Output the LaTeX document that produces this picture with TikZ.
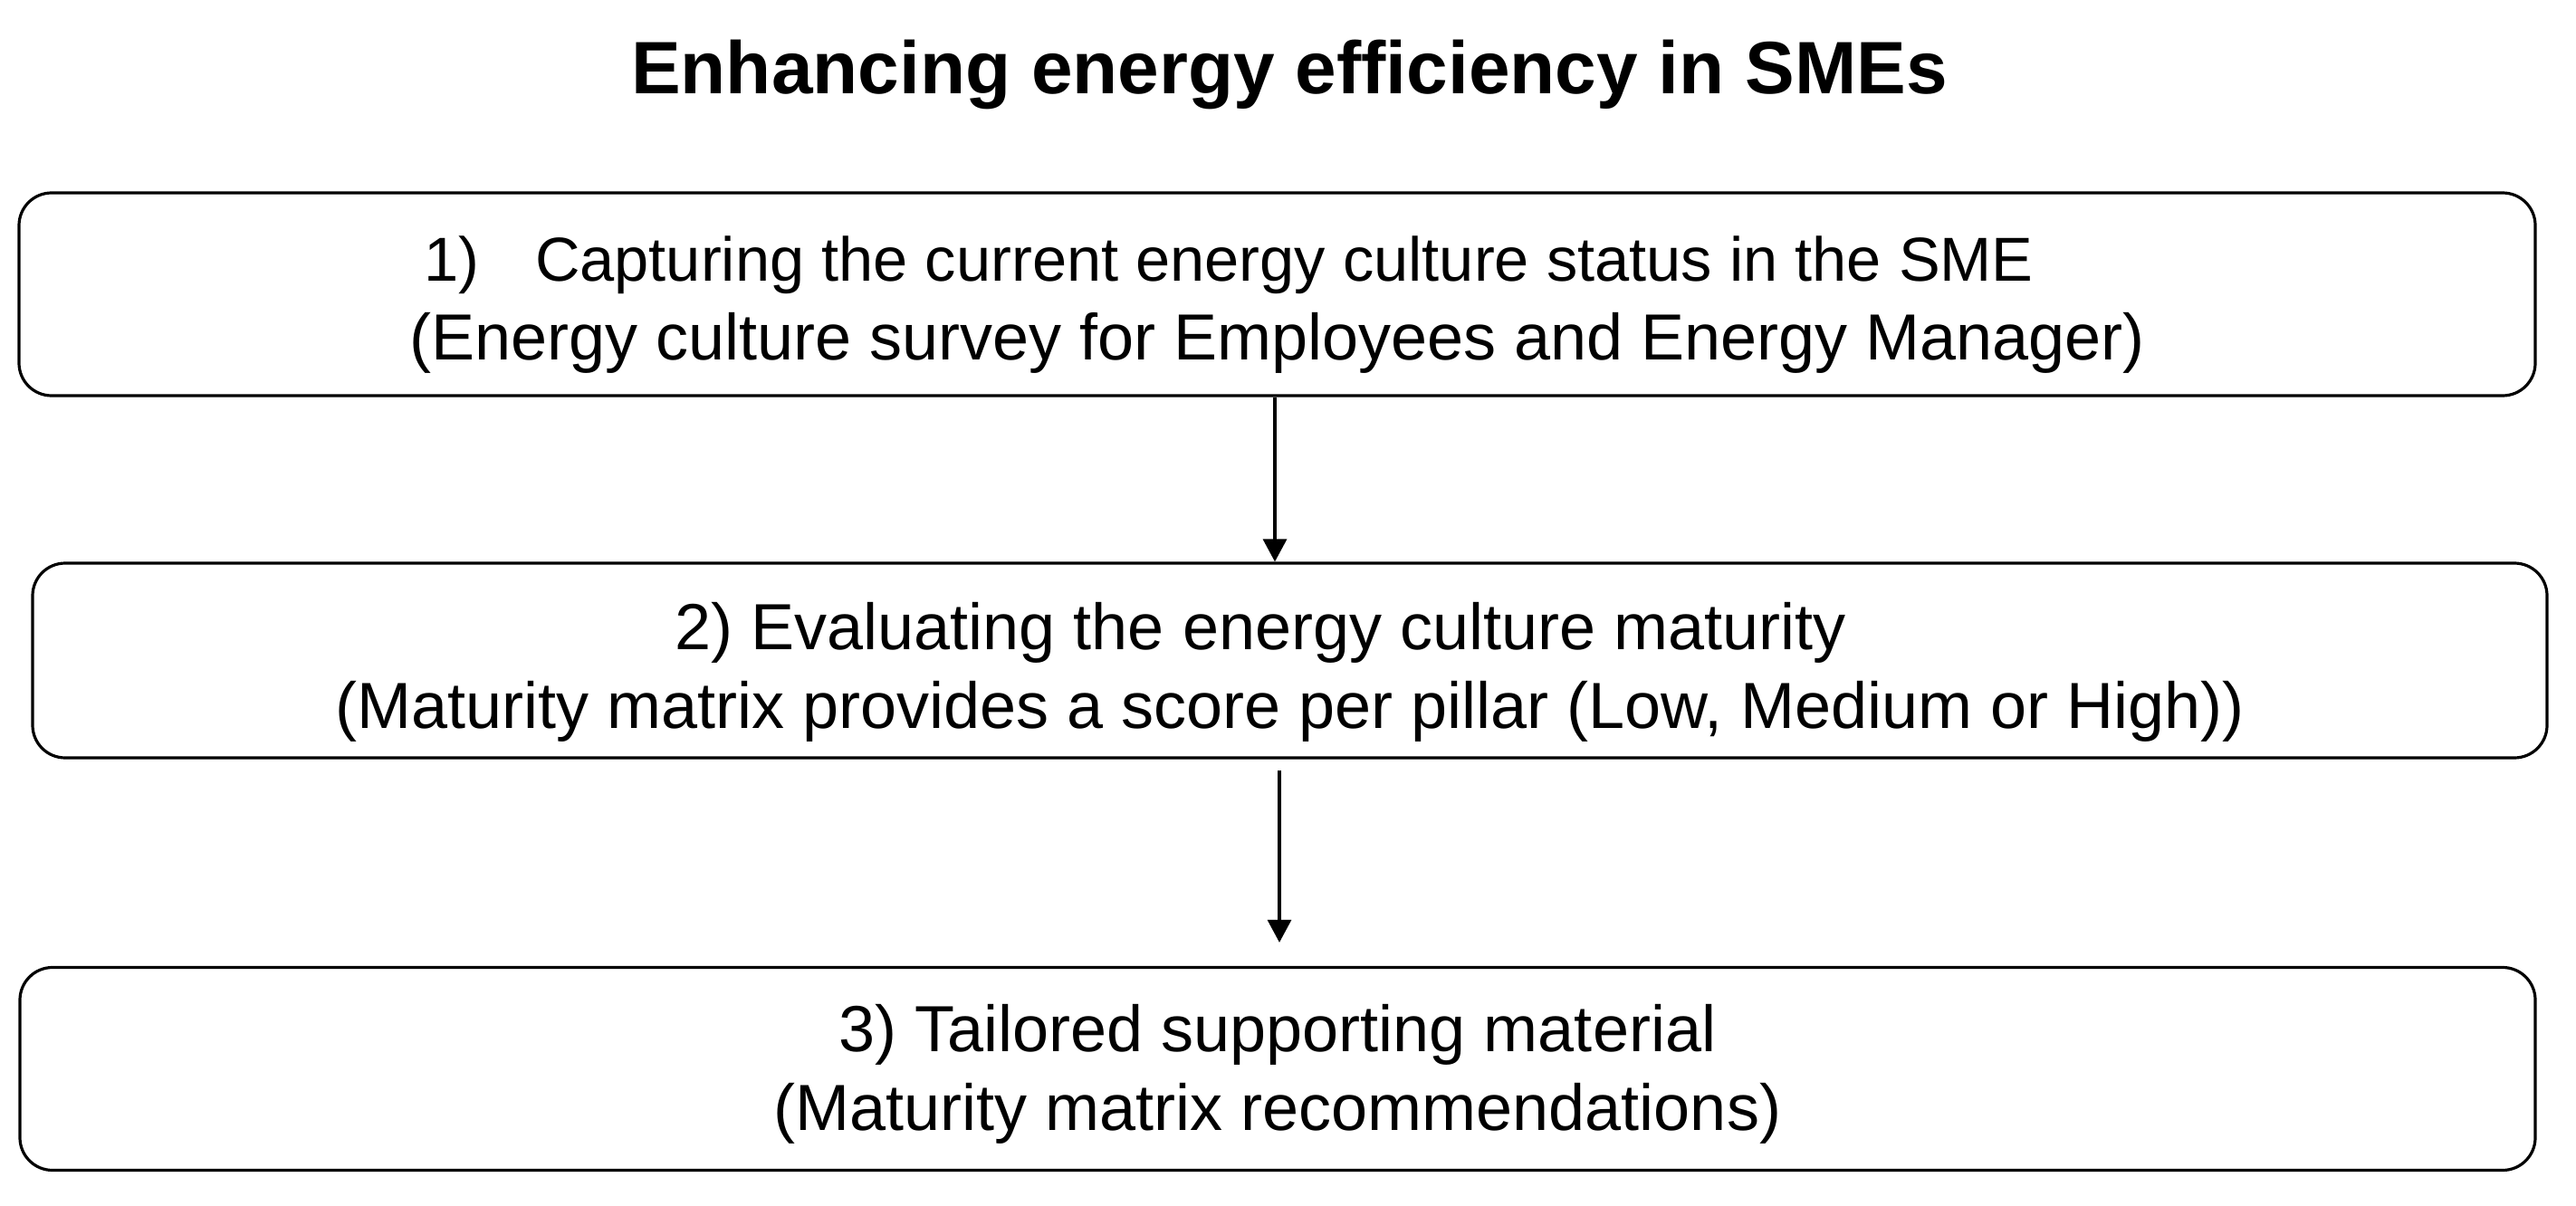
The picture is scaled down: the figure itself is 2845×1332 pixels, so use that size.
\documentclass[tikz,border=0pt]{standalone}
\usepackage{fontspec}
\setmainfont{Liberation Sans}
\usetikzlibrary{arrows.meta}

\tikzset{
  stepbox/.style={draw, line width=1.6pt, rounded corners=18pt, inner sep=0pt},
  steptext/.style={inner sep=0pt, align=center, font=\fontsize{36pt}{43.5pt}\selectfont},
  flowarrow/.style={line width=1.6pt, -{Triangle[width=13pt,length=12.5pt]}}
}

\begin{document}
\begin{tikzpicture}[x=0.5pt,y=0.5pt,yscale=-1,xscale=1]
\useasboundingbox (0,0) rectangle (2845,1332);

% Text Node
\node [inner sep=0pt, font=\fontsize{41pt}{49pt}\selectfont\bfseries] (title) at (1424,82) {Enhancing energy efficiency in SMEs};

%Shape: Rectangle
\node [stepbox, minimum width=1389.5pt, minimum height=112pt] (b1) at (1410.5,325) {};
%Shape: Rectangle
\node [stepbox, minimum width=1388.5pt, minimum height=107.5pt] (b2) at (1424.5,729.5) {};
%Shape: Rectangle
\node [stepbox, minimum width=1389pt, minimum height=112pt] (b3) at (1411,1180.5) {};

% Text Node
\node [steptext] (t1) at (1410.5,337) {{\fontsize{34.3pt}{43.5pt}\selectfont 1)\hspace{31pt}Capturing the current energy culture status in the SME\hspace*{53.5pt}}\\(Energy culture survey for Employees and Energy Manager)};
% Text Node
\node [steptext] (t2) at (1424.5,742) {2) Evaluating the energy culture maturity\hspace*{0.9em}\\(Maturity matrix provides a score per pillar (Low, Medium or High))};
% Text Node
\node [steptext] (t3) at (1411,1186) {3) Tailored supporting material\\(Maturity matrix recommendations)};

%Straight Lines
\coordinate (ax1) at (1408,0);
\coordinate (ax2) at (1413,0);
\draw [flowarrow] (b1.south -| ax1) -- (b2.north -| ax1);
\draw [flowarrow, shorten <=6pt, shorten >=13pt] (b2.south -| ax2) -- (b3.north -| ax2);

\end{tikzpicture}
\end{document}
